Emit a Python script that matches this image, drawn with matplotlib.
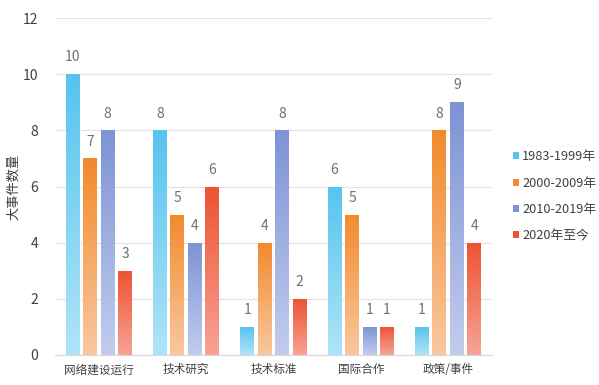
import numpy as np
import matplotlib
matplotlib.use("Agg")
import matplotlib.pyplot as plt
from matplotlib.colors import LinearSegmentedColormap
from matplotlib.patches import Rectangle, Patch

plt.rcParams['font.family'] = ['Noto Sans CJK SC', 'DejaVu Sans']

categories = ["网络建设运行", "技术研究", "技术标准", "国际合作", "政策/事件"]
series_names = ["1983-1999年", "2000-2009年", "2010-2019年", "2020年至今"]
s1983 = [10, 8, 1, 6, 1]
s2000 = [7, 5, 4, 5, 8]
s2010 = [8, 4, 8, 1, 9]
s2020 = [3, 6, 2, 1, 4]
series = [s1983, s2000, s2010, s2020]
yticks = [0, 2, 4, 6, 8, 10, 12]

top_colors = ["#55C4EE", "#F28A2C", "#7D93D4", "#EE5232"]
bot_colors = ["#B0E4F8", "#F9C8A0", "#C2CCEE", "#F6A496"]

fig = plt.figure(figsize=(5.99, 3.85), dpi=100)
ax = fig.add_axes([0.092, 0.078, 0.729, 0.875])

x = np.arange(len(categories))
width = 0.16
step = 0.2
ax.set_xlim(-0.5, len(categories) - 0.5)
ax.set_ylim(0, 12)

grad = np.linspace(0, 1, 256).reshape(-1, 1)
for i, (vals, tc, bc) in enumerate(zip(series, top_colors, bot_colors)):
    cmap = LinearSegmentedColormap.from_list(f"g{i}", [bc, tc])
    offs = (i - 1.5) * step
    bars = ax.bar(x + offs, vals, width, color=tc, alpha=0, zorder=3)
    for b, v in zip(bars, vals):
        x0 = b.get_x()
        im = ax.imshow(grad, extent=[x0, x0 + width, 0, v], origin='lower',
                       aspect='auto', cmap=cmap, zorder=3)
        rect = Rectangle((x0, 0), width, v, transform=ax.transData)
        im.set_clip_path(rect)
        ax.text(x0 + width / 2, v + 0.35, str(v), ha='center', va='bottom',
                fontsize=10, color='#707070', zorder=4)

ax.set_xlim(-0.5, len(categories) - 0.5)
ax.set_ylim(0, 12)
ax.set_yticks(yticks)
ax.set_xticks(x)
ax.set_xticklabels(categories, fontsize=8.4, color='#404040')
ax.tick_params(axis='y', labelsize=10, colors='#404040', length=0, pad=12)
ax.tick_params(axis='x', length=0, pad=6)
ax.yaxis.grid(True, color='#E4E4E4', linewidth=0.9, zorder=0)
ax.set_axisbelow(True)
for s in ['top', 'right', 'left']:
    ax.spines[s].set_visible(False)
ax.spines['bottom'].set_color('#D8D8D8')
ax.set_ylabel("大事件数量", fontsize=9.5, color='#404040', labelpad=2)

handles = [Patch(facecolor=top_colors[i], edgecolor='none') for i in range(4)]
leg = fig.legend(handles, series_names, loc='center left', bbox_to_anchor=(0.857, 0.49),
                 frameon=False, fontsize=9.2, handlelength=0.45, handleheight=0.45,
                 handletextpad=0.25, labelspacing=1.05, borderpad=0, borderaxespad=0)
for t in leg.get_texts():
    t.set_color('#404040')

fig.savefig("out.png", dpi=100)
